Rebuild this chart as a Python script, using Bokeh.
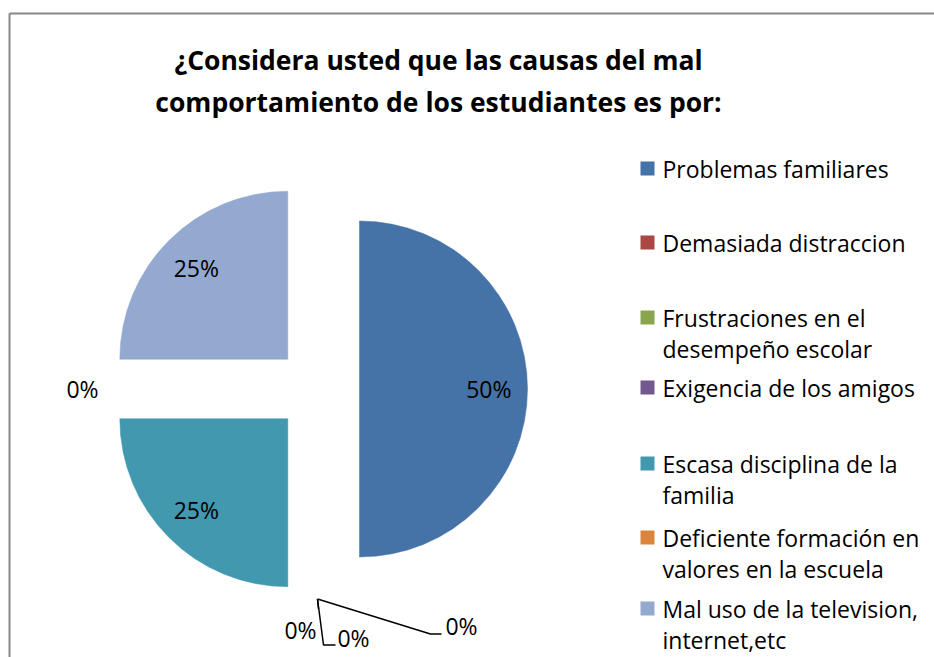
import math
from bokeh.plotting import figure
from bokeh.models import Range1d
from bokeh.core.properties import value
from bokeh.embed import file_html
from bokeh.resources import INLINE

# ---------------- data ----------------
title_lines = ["¿Considera usted que las causas del mal",
               "comportamiento de los estudiantes es por:"]
categories = ["Problemas familiares", "Demasiada distraccion",
              "Frustraciones en el desempeño escolar", "Exigencia de los amigos",
              "Escasa disciplina de la familia",
              "Deficiente formación en valores en la escuela",
              "Mal uso de la television, internet,etc"]
legend_lines = [["Problemas familiares"], ["Demasiada distraccion"],
                ["Frustraciones en el", "desempeño escolar"], ["Exigencia de los amigos"],
                ["Escasa disciplina de la", "familia"],
                ["Deficiente formación en", "valores en la escuela"],
                ["Mal uso de la television,", "internet,etc"]]
percent = [50, 0, 0, 0, 25, 0, 25]
colors = ["#4572A7", "#AA4643", "#89A54E", "#71588F", "#4198AF", "#DB843D", "#93A9CF"]

# ---------------- layout ----------------
PAGE_H = 657
W, H = 934, 657
FONT = "Open Sans"


def Y(sy):
    return PAGE_H - sy


p = figure(width=W, height=H, output_backend="svg", toolbar_location=None,
           x_range=Range1d(0, W), y_range=Range1d(Y(H), Y(0)),
           min_border=0, tools="")
p.axis.visible = False
p.grid.visible = False
p.outline_line_color = None
p.background_fill_color = "white"
p.border_fill_color = "white"

# chart frame (only top and left edges visible)
p.line(x=[9, 9], y=[Y(660), Y(13)], line_color="#888888", line_width=2)
p.line(x=[9, 940], y=[Y(13), Y(13)], line_color="#888888", line_width=2)

# title
for i, t in enumerate(title_lines):
    p.text(x=[438], y=[Y(59 + 42 * i)], text=[t], text_font=value(FONT),
           text_font_style="bold", text_font_size="26.5px", text_color="black",
           text_align="center", text_baseline="middle")

# pie
CX, CY, R, EXPLODE = 317, Y(388.5), 168, 42
total = sum(percent)
cum = 0.0
label_x, label_y, label_t = [], [], []
zero_bottom = []
for i, v in enumerate(percent):
    c0 = cum / total
    cum += v
    c1 = cum / total
    mid = math.pi / 2 - 2 * math.pi * (c0 + c1) / 2
    ex = CX + EXPLODE * math.cos(mid)
    ey = CY + EXPLODE * math.sin(mid)
    start = math.pi / 2 - 2 * math.pi * c1
    end = math.pi / 2 - 2 * math.pi * c0
    if v > 0:
        p.wedge(x=[ex], y=[ey], radius=R, start_angle=start, end_angle=end,
                direction="anticlock", fill_color=colors[i], line_color=colors[i],
                line_width=0.5)
        label_x.append(ex + 0.77 * R * math.cos(mid))
        label_y.append(ey + 0.77 * R * math.sin(mid))
        label_t.append(f"{v}%")
    else:
        if abs(math.sin(mid)) > 0.9:
            zero_bottom.append((ex + R * math.cos(mid), ey + R * math.sin(mid), v))
        else:
            label_x.append(ex + (R + 25) * math.cos(mid))
            label_y.append(ey + (R + 25) * math.sin(mid))
            label_t.append(f"{v}%")

# leader-lined labels for the zero slices at the bottom
offsets = [(-17, -31, [(1, -10)]), (36, -39, [(6, -46), (18, -46)]),
           (144, -27, [(113, -35), (124, -35)])]
for (sx, sy, v), (dx, dy, pts) in zip(zero_bottom, offsets):
    xs = [sx] + [sx + a for a, b in pts]
    ys = [sy] + [sy + b for a, b in pts]
    p.line(x=xs, y=ys, line_color="black", line_width=1.5)
    label_x.append(sx + dx)
    label_y.append(sy + dy)
    label_t.append(f"{v}%")

p.text(x=label_x, y=label_y, text=label_t, text_font=value(FONT),
       text_font_size="23px", text_color="black", text_align="center",
       text_baseline="middle")

# legend
leg_rows = [168, 242, 317, 387, 463, 537, 608]
LINE_H = 31.5
for i, lines in enumerate(legend_lines):
    ry = leg_rows[i]
    p.rect(x=[647], y=[Y(ry)], width=14, height=14, fill_color=colors[i],
           line_color=None)
    for j, t in enumerate(lines):
        p.text(x=[662], y=[Y(ry + LINE_H * j)], text=[t], text_font=value(FONT),
               text_font_size="23px", text_color="black", text_align="left",
               text_baseline="middle")

open("out.html", "w").write(file_html(p, INLINE))
